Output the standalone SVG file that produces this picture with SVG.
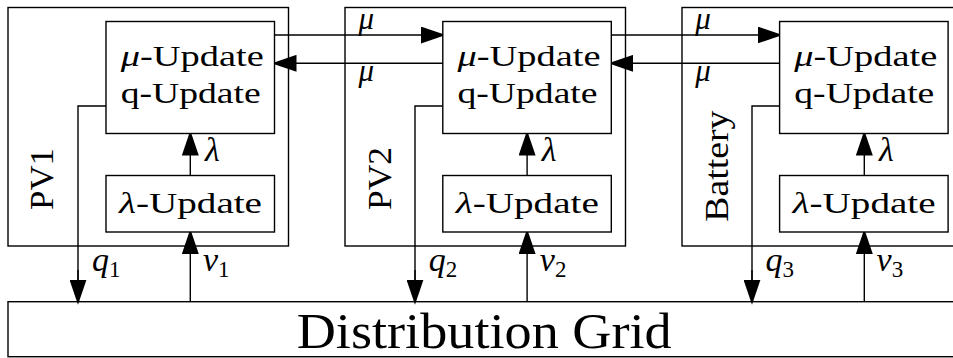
<svg xmlns="http://www.w3.org/2000/svg" width="953" height="358" viewBox="0 0 953 358">
<style>
.box{fill:#fff;stroke:#000;stroke-width:1.4}
.outer{fill:none;stroke:#000;stroke-width:1.4}
.ln{fill:none;stroke:#000;stroke-width:1.4}
.arr{fill:none;stroke:#000;stroke-width:1.4;marker-end:url(#ah)}
text{font-family:"Liberation Serif","Times New Roman",serif;fill:#000}
.t{font-size:30px}
.side{font-size:34px}
.m{font-size:34px;font-style:italic}
.mu{font-size:31px;font-style:italic}
.sub{font-size:23px;font-style:normal}
.it{font-style:italic}
</style>
<defs>
<marker id="ah" markerUnits="userSpaceOnUse" markerWidth="25" markerHeight="17" viewBox="0 0 25 17" refX="22" refY="8.5" orient="auto">
<path d="M0,0 L25,8.5 L0,17 z" fill="#000"/>
</marker>
</defs>

<g id="grid">
<rect class="box" x="8" y="301.7" width="960" height="55"/>
<text x="296.7" y="348.3" font-size="50" textLength="375" lengthAdjust="spacingAndGlyphs">Distribution Grid</text>
</g>

<g id="pv1">
<rect class="outer" x="8" y="7.5" width="280.5" height="238.5"/>
<text class="side" transform="translate(53.3,210) rotate(-90)" textLength="62" lengthAdjust="spacingAndGlyphs">PV1</text>
</g>
<g id="pv2">
<rect class="outer" x="345" y="7.5" width="280.5" height="238.5"/>
<text class="side" transform="translate(391.3,210) rotate(-90)" textLength="63" lengthAdjust="spacingAndGlyphs">PV2</text>
</g>
<g id="battery">
<rect class="outer" x="682" y="7.5" width="290" height="238.5"/>
<text class="side" transform="translate(728.3,221.7) rotate(-90)" textLength="111" lengthAdjust="spacingAndGlyphs">Battery</text>
</g>

<g id="connectors">
<path class="arr" d="M190.3,175.5 V133.5"/>
<path class="ln" d="M106,106 H78 V280"/>
<path class="arr" d="M78,270 V301.7"/>
<path class="arr" d="M190.3,301.7 V232"/>
<path class="arr" d="M527.1,175.5 V133.5"/>
<path class="ln" d="M442.8,106 H415 V280"/>
<path class="arr" d="M415,270 V301.7"/>
<path class="arr" d="M527.1,301.7 V232"/>
<path class="arr" d="M864.3,175.5 V133.5"/>
<path class="ln" d="M779.6,106 H752 V280"/>
<path class="arr" d="M752,270 V301.7"/>
<path class="arr" d="M864.3,301.7 V232"/>
<path class="arr" d="M274.5,35 H442.8"/>
<path class="arr" d="M442.8,63.3 H274.5"/>
<path class="arr" d="M611.3,35 H779.6"/>
<path class="arr" d="M779.6,63.3 H611.3"/>
<text class="m" x="205" y="161">λ</text>
<text class="m" x="541.8" y="161">λ</text>
<text class="m" x="879" y="161">λ</text>
<text class="m" x="92" y="271.3">q<tspan class="sub" dy="6">1</tspan></text>
<text class="m" x="428.8" y="271.3">q<tspan class="sub" dy="6">2</tspan></text>
<text class="m" x="765.6" y="271.3">q<tspan class="sub" dy="6">3</tspan></text>
<text class="m" x="203" y="271.3">v<tspan class="sub" dy="6">1</tspan></text>
<text class="m" x="539.8" y="271.3">v<tspan class="sub" dy="6">2</tspan></text>
<text class="m" x="876.6" y="271.3">v<tspan class="sub" dy="6">3</tspan></text>
<text class="mu" x="358.5" y="29">μ</text>
<text class="mu" x="358.5" y="81.3">μ</text>
<text class="mu" x="695.3" y="29">μ</text>
<text class="mu" x="695.3" y="81.3">μ</text>
</g>

<g id="pv1-update">
<rect class="box" x="106" y="21.5" width="168.5" height="112"/>
<text class="t" x="120.7" y="65.7" textLength="143" lengthAdjust="spacingAndGlyphs"><tspan class="it">μ</tspan>-Update</text>
<text class="t" x="120.7" y="103.3" textLength="140" lengthAdjust="spacingAndGlyphs">q-Update</text>
</g>
<g id="pv1-lambda">
<rect class="box" x="106" y="175.5" width="168.5" height="56.5"/>
<text class="t" x="119" y="212.7" textLength="143" lengthAdjust="spacingAndGlyphs"><tspan class="it">λ</tspan>-Update</text>
</g>

<g id="pv2-update">
<rect class="box" x="442.8" y="21.5" width="168.5" height="112"/>
<text class="t" x="457.5" y="65.7" textLength="143" lengthAdjust="spacingAndGlyphs"><tspan class="it">μ</tspan>-Update</text>
<text class="t" x="457.5" y="103.3" textLength="140" lengthAdjust="spacingAndGlyphs">q-Update</text>
</g>
<g id="pv2-lambda">
<rect class="box" x="442.8" y="175.5" width="168.5" height="56.5"/>
<text class="t" x="455.8" y="212.7" textLength="143" lengthAdjust="spacingAndGlyphs"><tspan class="it">λ</tspan>-Update</text>
</g>

<g id="battery-update">
<rect class="box" x="779.6" y="21.5" width="168.5" height="112"/>
<text class="t" x="794.3" y="65.7" textLength="143" lengthAdjust="spacingAndGlyphs"><tspan class="it">μ</tspan>-Update</text>
<text class="t" x="794.3" y="103.3" textLength="140" lengthAdjust="spacingAndGlyphs">q-Update</text>
</g>
<g id="battery-lambda">
<rect class="box" x="779.6" y="175.5" width="168.5" height="56.5"/>
<text class="t" x="792.6" y="212.7" textLength="143" lengthAdjust="spacingAndGlyphs"><tspan class="it">λ</tspan>-Update</text>
</g>
</svg>
